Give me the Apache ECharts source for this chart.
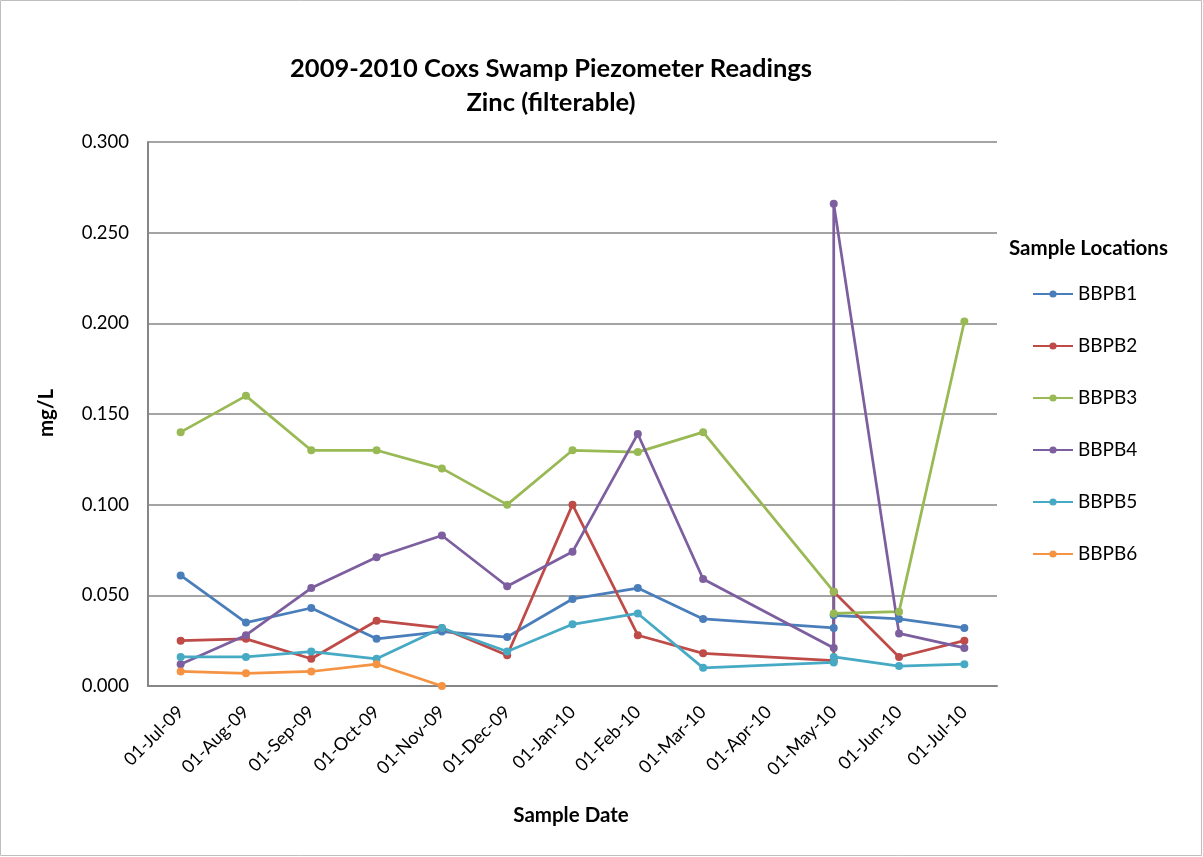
<!DOCTYPE html>
<html><head><meta charset="utf-8">
<script src="https://cdn.jsdelivr.net/npm/echarts@6/dist/echarts.min.js"></script>
<style>html,body{margin:0;padding:0;background:#fff}#c{width:1203px;height:857px}</style>
</head><body><div id="c"></div>
<script>
const tickLabels = ['01-Jul-09','01-Aug-09','01-Sep-09','01-Oct-09','01-Nov-09','01-Dec-09','01-Jan-10','01-Feb-10','01-Mar-10','01-Apr-10','01-May-10','01-Jun-10','01-Jul-10'];
const seriesNames = ['BBPB1','BBPB2','BBPB3','BBPB4','BBPB5','BBPB6'];
const colors = ['#4A7EBB','#BE4B48','#98B954','#7D5FA0','#46AAC5','#F59343'];

const dates1 = ['2009-07','2009-08','2009-09','2009-10','2009-11','2009-12','2010-01','2010-02','2010-03','2010-05','2010-05','2010-06','2010-07'];
const vals1  = [0.061,0.035,0.043,0.026,0.030,0.027,0.048,0.054,0.037,0.032,0.039,0.037,0.032];
const dates2 = ['2009-07','2009-08','2009-09','2009-10','2009-11','2009-12','2010-01','2010-02','2010-03','2010-05','2010-05','2010-06','2010-07'];
const vals2  = [0.025,0.026,0.015,0.036,0.032,0.017,0.100,0.028,0.018,0.014,0.052,0.016,0.025];
const dates3 = ['2009-07','2009-08','2009-09','2009-10','2009-11','2009-12','2010-01','2010-02','2010-03','2010-05','2010-05','2010-06','2010-07'];
const vals3  = [0.140,0.160,0.130,0.130,0.120,0.100,0.130,0.129,0.140,0.052,0.040,0.041,0.201];
const dates4 = ['2009-07','2009-08','2009-09','2009-10','2009-11','2009-12','2010-01','2010-02','2010-03','2010-05','2010-05','2010-06','2010-07'];
const vals4  = [0.012,0.028,0.054,0.071,0.083,0.055,0.074,0.139,0.059,0.021,0.266,0.029,0.021];
const dates5 = ['2009-07','2009-08','2009-09','2009-10','2009-11','2009-12','2010-01','2010-02','2010-03','2010-05','2010-05','2010-06','2010-07'];
const vals5  = [0.016,0.016,0.019,0.015,0.032,0.019,0.034,0.040,0.010,0.013,0.016,0.011,0.012];
const dates6 = ['2009-07','2009-08','2009-09','2009-10','2009-11'];
const vals6  = [0.008,0.007,0.008,0.012,0.000];

const allDates = [dates1,dates2,dates3,dates4,dates5,dates6];
const allVals = [vals1,vals2,vals3,vals4,vals5,vals6];

function monthIndex(s){ const [y,m]=s.split('-').map(Number); return (y-2009)*12 + (m-7); }

const FONT = 'Lato';
const chart = echarts.init(document.getElementById('c'), null, {renderer:'canvas'});
const series = seriesNames.map((n,i)=>({
  name:n, type:'line',
  data: allDates[i].map((d,k)=>[monthIndex(d), allVals[i][k]]),
  symbol:'circle', symbolSize:8,
  itemStyle:{color:colors[i]},
  lineStyle:{color:colors[i], width:2.75},
  emphasis:{disabled:true}, animation:false
}));

chart.setOption({
  animation:false,
  textStyle:{fontFamily:FONT},
  grid:{left:148, right:206, top:142, bottom:171, containLabel:false},
  xAxis:{
    type:'value', min:-0.5, max:12.5,
    axisLine:{show:true, onZero:false, lineStyle:{color:'#868686', width:2}},
    axisTick:{show:false},
    splitLine:{show:false},
    axisLabel:{
      customValues:tickLabels.map((_,i)=>i),
      rotate:45, fontSize:18, color:'#000', fontFamily:FONT, margin:23,
      formatter:(v)=>tickLabels[Math.round(v)]
    }
  },
  yAxis:{
    type:'value', min:0, max:0.3, interval:0.05,
    axisLine:{show:true, onZero:false, lineStyle:{color:'#868686', width:2}},
    axisTick:{show:false},
    splitLine:{show:true, lineStyle:{color:'#868686', width:1.5}},
    axisLabel:{fontSize:18.5, color:'#000', fontFamily:FONT, margin:19, formatter:(v)=>v.toFixed(3)}
  },
  legend:{
    orient:'vertical', left:1027, top:279, itemWidth:40, itemHeight:9, itemGap:32,
    data:seriesNames,
    textStyle:{fontSize:19, lineHeight:20, color:'#000', fontFamily:FONT},
    selectedMode:false
  },
  graphic:[
    {type:'rect', shape:{x:0.5,y:0.5,width:1201,height:855}, style:{fill:'none', stroke:'#bfbfbf', lineWidth:1}, silent:true},
    {type:'text', x:551, y:69, style:{text:'2009-2010 Coxs Swamp Piezometer Readings', font:'bold 25.5px '+FONT, fill:'#000', textAlign:'center', textVerticalAlign:'middle'}},
    {type:'text', x:551, y:103, style:{text:'Zinc (filterable)', font:'bold 25.5px '+FONT, fill:'#000', textAlign:'center', textVerticalAlign:'middle'}},
    {type:'text', x:46, y:413, rotation:Math.PI/2, style:{text:'mg/L', font:'bold 20.5px '+FONT, fill:'#000', textAlign:'center', textVerticalAlign:'middle'}},
    {type:'text', x:571, y:815, style:{text:'Sample Date', font:'bold 20.5px '+FONT, fill:'#000', textAlign:'center', textVerticalAlign:'middle'}},
    {type:'text', x:1009, y:248, style:{text:'Sample Locations', font:'bold 20.5px '+FONT, fill:'#000', textAlign:'left', textVerticalAlign:'middle'}}
  ],
  series
});
</script></body></html>
